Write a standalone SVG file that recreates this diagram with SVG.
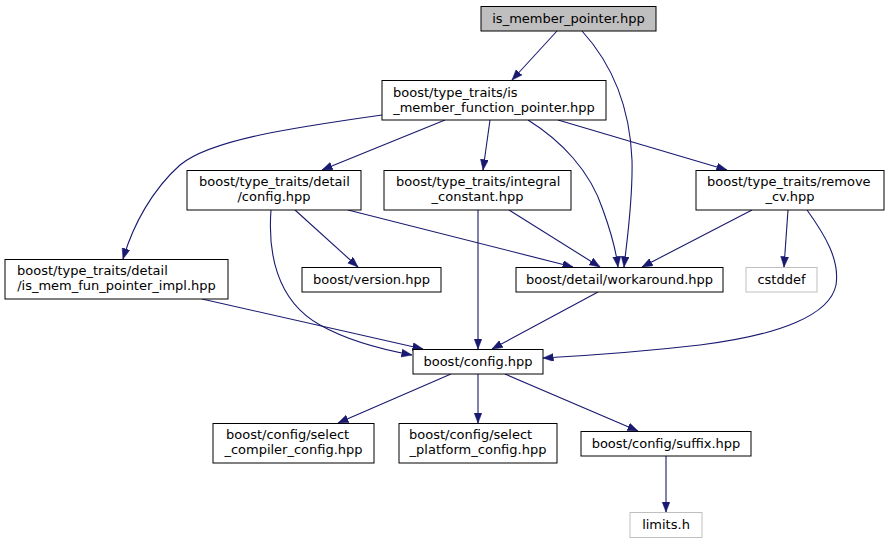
<svg xmlns="http://www.w3.org/2000/svg" width="889" height="544" viewBox="0 0 889 544">
<style>
  .n rect { fill: #ffffff; stroke: #000000; stroke-width: 1; }
  .n.root rect { fill: #bfbfbf; }
  .n.ext rect { stroke: #bfbfbf; }
  text { font-family: "DejaVu Sans", "Liberation Sans", sans-serif; font-size: 13px; fill: #000000; }
  .c { text-anchor: middle; }
  .l { text-anchor: start; }
  .e path { fill: none; stroke: #191970; stroke-width: 1.1; marker-end: url(#arr); }
</style>
<defs>
  <marker id="arr" markerUnits="userSpaceOnUse" markerWidth="12" markerHeight="10" refX="10.5" refY="4" orient="auto">
    <path d="M0,0 L10.5,4 L0,8 Z" fill="#191970" stroke="#191970" stroke-width="0.5"/>
  </marker>
</defs>
<rect width="889" height="544" fill="#ffffff"/>
<g id="edges" class="e">
  <path d="M557,31 L512,80"/>
  <path d="M582,31 C614,66 630,110 632,160 C633,200 627,240 624,267"/>
  <path d="M382,115 C290,128 210,140 180,165 C152,190 133,225 123,259"/>
  <path d="M445,120 L322,170"/>
  <path d="M490,120 L483,170"/>
  <path d="M528,120 C560,140 590,170 603,210 C612,235 616,250 618,267"/>
  <path d="M558,120 L727,170"/>
  <path d="M271,210 C268,250 275,300 320,325 C350,342 385,350 412,355"/>
  <path d="M295,210 L358,267"/>
  <path d="M348,210 L573,267"/>
  <path d="M509,210 L600,267"/>
  <path d="M478,210 L478,349"/>
  <path d="M752,210 L642,267"/>
  <path d="M788,210 L784,267"/>
  <path d="M807,210 C825,235 840,260 836,285 C830,315 780,335 700,345 C640,352 580,356 543,358"/>
  <path d="M202,299 L423,349"/>
  <path d="M598,292 L492,349"/>
  <path d="M451,374 L338,423"/>
  <path d="M478,374 L478,423"/>
  <path d="M505,374 L638,431"/>
  <path d="M666,456 L666,512"/>
</g>
<g id="node1" class="n root">
  <rect x="481" y="6.5" width="175" height="24.5"/>
  <text class="c" x="568.5" y="23">is_member_pointer.hpp</text>
</g>
<g id="node2" class="n">
  <rect x="382" y="80.5" width="224" height="39.5"/>
  <text class="l" x="393" y="97">boost/type_traits/is</text>
  <text class="c" x="494" y="112">_member_function_pointer.hpp</text>
</g>
<g id="node3" class="n">
  <rect x="187" y="170.5" width="174" height="39.5"/>
  <text class="l" x="199" y="186">boost/type_traits/detail</text>
  <text class="c" x="274" y="201">/config.hpp</text>
</g>
<g id="node4" class="n">
  <rect x="384" y="170.5" width="187" height="39.5"/>
  <text class="l" x="396" y="186">boost/type_traits/integral</text>
  <text class="c" x="477.5" y="201">_constant.hpp</text>
</g>
<g id="node5" class="n">
  <rect x="696" y="170.5" width="188" height="39.5"/>
  <text class="l" x="707" y="186">boost/type_traits/remove</text>
  <text class="c" x="790" y="201">_cv.hpp</text>
</g>
<g id="node6" class="n">
  <rect x="5" y="259.5" width="223" height="39.5"/>
  <text class="l" x="17" y="275">boost/type_traits/detail</text>
  <text class="c" x="116.5" y="290">/is_mem_fun_pointer_impl.hpp</text>
</g>
<g id="node7" class="n">
  <rect x="302" y="267.5" width="139" height="24.5"/>
  <text class="c" x="371.5" y="284">boost/version.hpp</text>
</g>
<g id="node8" class="n">
  <rect x="516" y="267.5" width="207" height="24.5"/>
  <text class="c" x="619.5" y="284">boost/detail/workaround.hpp</text>
</g>
<g id="node9" class="n ext">
  <rect x="746" y="267.5" width="71" height="24.5"/>
  <text class="c" x="781.5" y="284">cstddef</text>
</g>
<g id="node10" class="n">
  <rect x="413" y="349.5" width="130" height="24.5"/>
  <text class="c" x="478" y="366">boost/config.hpp</text>
</g>
<g id="node11" class="n">
  <rect x="213" y="423.5" width="161" height="39.5"/>
  <text class="l" x="226" y="439">boost/config/select</text>
  <text class="c" x="293.5" y="454">_compiler_config.hpp</text>
</g>
<g id="node12" class="n">
  <rect x="399" y="423.5" width="158" height="39.5"/>
  <text class="l" x="409" y="439">boost/config/select</text>
  <text class="c" x="478" y="454">_platform_config.hpp</text>
</g>
<g id="node13" class="n">
  <rect x="581" y="431.5" width="170" height="24.5"/>
  <text class="c" x="666" y="448">boost/config/suffix.hpp</text>
</g>
<g id="node14" class="n ext">
  <rect x="630" y="512.5" width="72" height="25"/>
  <text class="c" x="666" y="529">limits.h</text>
</g>
</svg>
